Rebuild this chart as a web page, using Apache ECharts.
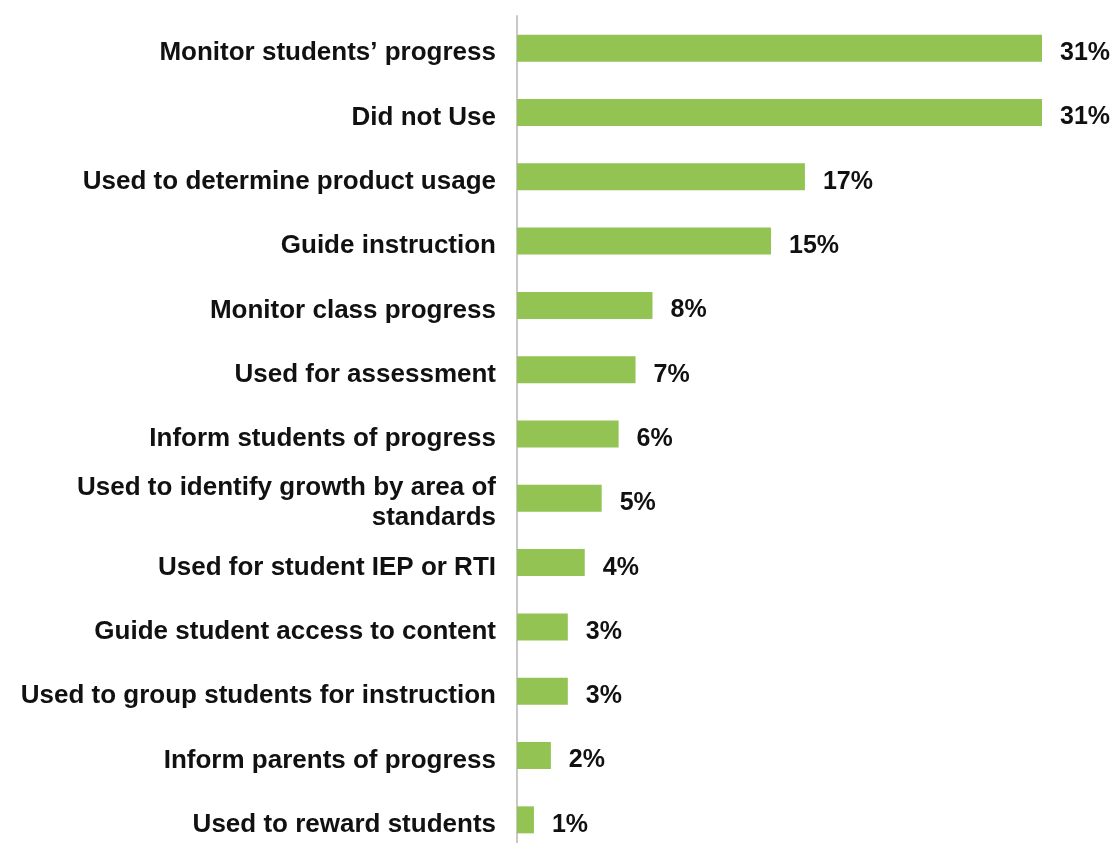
<!DOCTYPE html>
<html>
<head>
<meta charset="utf-8">
<script src="https://cdn.jsdelivr.net/npm/echarts@6/dist/echarts.min.js"></script>
<style>
html,body{margin:0;padding:0;background:#fff;overflow:hidden;}
#chart{width:1115px;height:860px;}
</style>
</head>
<body>
<div id="chart"></div>
<script>
const categories = [
  "Monitor students\u2019 progress",
  "Did not Use",
  "Used to determine product usage",
  "Guide instruction",
  "Monitor class progress",
  "Used for assessment",
  "Inform students of progress",
  "Used to identify growth by area of\nstandards",
  "Used for student IEP or RTI",
  "Guide student access to content",
  "Used to group students for instruction",
  "Inform parents of progress",
  "Used to reward students"
];
const values = [31, 31, 17, 15, 8, 7, 6, 5, 4, 3, 3, 2, 1];

const FONT = '"Liberation Sans", Arial, Helvetica, sans-serif';
const chart = echarts.init(document.getElementById('chart'), null, {renderer: 'canvas'});
chart.setOption({
  animation: false,
  backgroundColor: '#ffffff',
  grid: {left: 517, right: 73, top: 16, height: 836, containLabel: false},
  xAxis: {
    type: 'value', min: 0, max: 31,
    show: false
  },
  yAxis: {
    type: 'category',
    data: categories,
    inverse: true,
    axisLine: {show: true, lineStyle: {color: '#c8c8c8', width: 2}},
    axisTick: {show: false},
    axisLabel: {
      margin: 21,
      align: 'right',
      formatter: function (v) {
        return '{s| }\n' + v.split('\n').map(function (l) { return '{t|' + l + '}'; }).join('\n');
      },
      rich: {
        s: {fontSize: 4, lineHeight: 10, align: 'right'},
        t: {
          color: '#111111',
          fontFamily: FONT,
          fontWeight: 'bold',
          fontSize: 26,
          lineHeight: 30,
          align: 'right'
        }
      }
    }
  },
  series: [{
    type: 'bar',
    data: values,
    barWidth: 27,
    itemStyle: {color: '#92c353'},
    label: {
      show: true,
      position: 'right',
      distance: 18,
      offset: [0, 5],
      formatter: '{c}%',
      color: '#111111',
      fontFamily: FONT,
      fontWeight: 'bold',
      fontSize: 25
    }
  }]
});
</script>
</body>
</html>
